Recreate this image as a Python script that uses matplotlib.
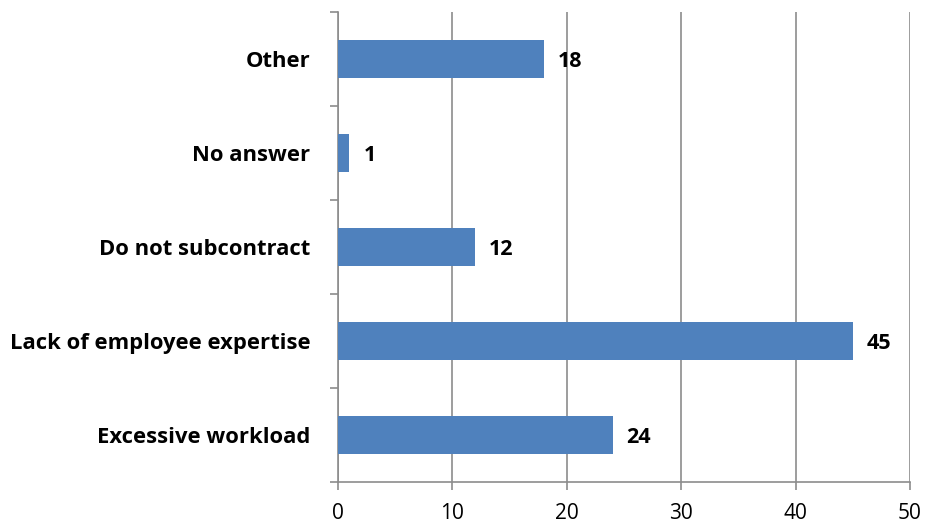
import matplotlib.pyplot as plt

categories = ["Excessive workload", "Lack of employee expertise", "Do not subcontract",
              "No answer", "Other"]
values = [24, 45, 12, 1, 18]
x_ticks = [0, 10, 20, 30, 40, 50]

plt.rcParams['font.family'] = ['Open Sans', 'DejaVu Sans']

fig = plt.figure(figsize=(9.25, 5.29), dpi=100)
ax = fig.add_axes([0.3654, 0.0889, 0.6184, 0.8884])

pos = list(range(len(categories)))
ax.barh(pos, values, height=0.4, color='#4F81BD', zorder=3)

for p, v in zip(pos, values):
    ax.annotate(str(v), xy=(v, p), xytext=(10, 0), textcoords='offset points',
                va='center_baseline', ha='left', fontsize=15.5, fontweight='bold',
                color='black')

ax.set_xlim(0, 50)
ax.set_ylim(-0.5, len(categories) - 0.5)
ax.set_xticks(x_ticks)
ax.set_xticklabels([str(t) for t in x_ticks], fontsize=15)
ax.set_yticks(pos)
ax.set_yticklabels(categories, fontsize=15.8, fontweight='bold', va='center_baseline')
ax.set_yticks([p - 0.5 for p in range(len(categories) + 1)], minor=True)

ax.grid(axis='x', color='#8c8c8c', linewidth=1.2, zorder=0)
for s in ['top', 'right']:
    ax.spines[s].set_visible(False)
ax.spines['left'].set_color('#8c8c8c')
ax.spines['bottom'].set_color('#8c8c8c')
ax.spines['left'].set_linewidth(1.2)
ax.spines['bottom'].set_linewidth(1.2)

ax.tick_params(axis='y', which='major', length=0, pad=20)
ax.tick_params(axis='y', which='minor', length=6, color='#8c8c8c', width=1.2)
ax.tick_params(axis='x', length=6, color='#8c8c8c', width=1.2, pad=9)

fig.savefig('out.png', dpi=100)
